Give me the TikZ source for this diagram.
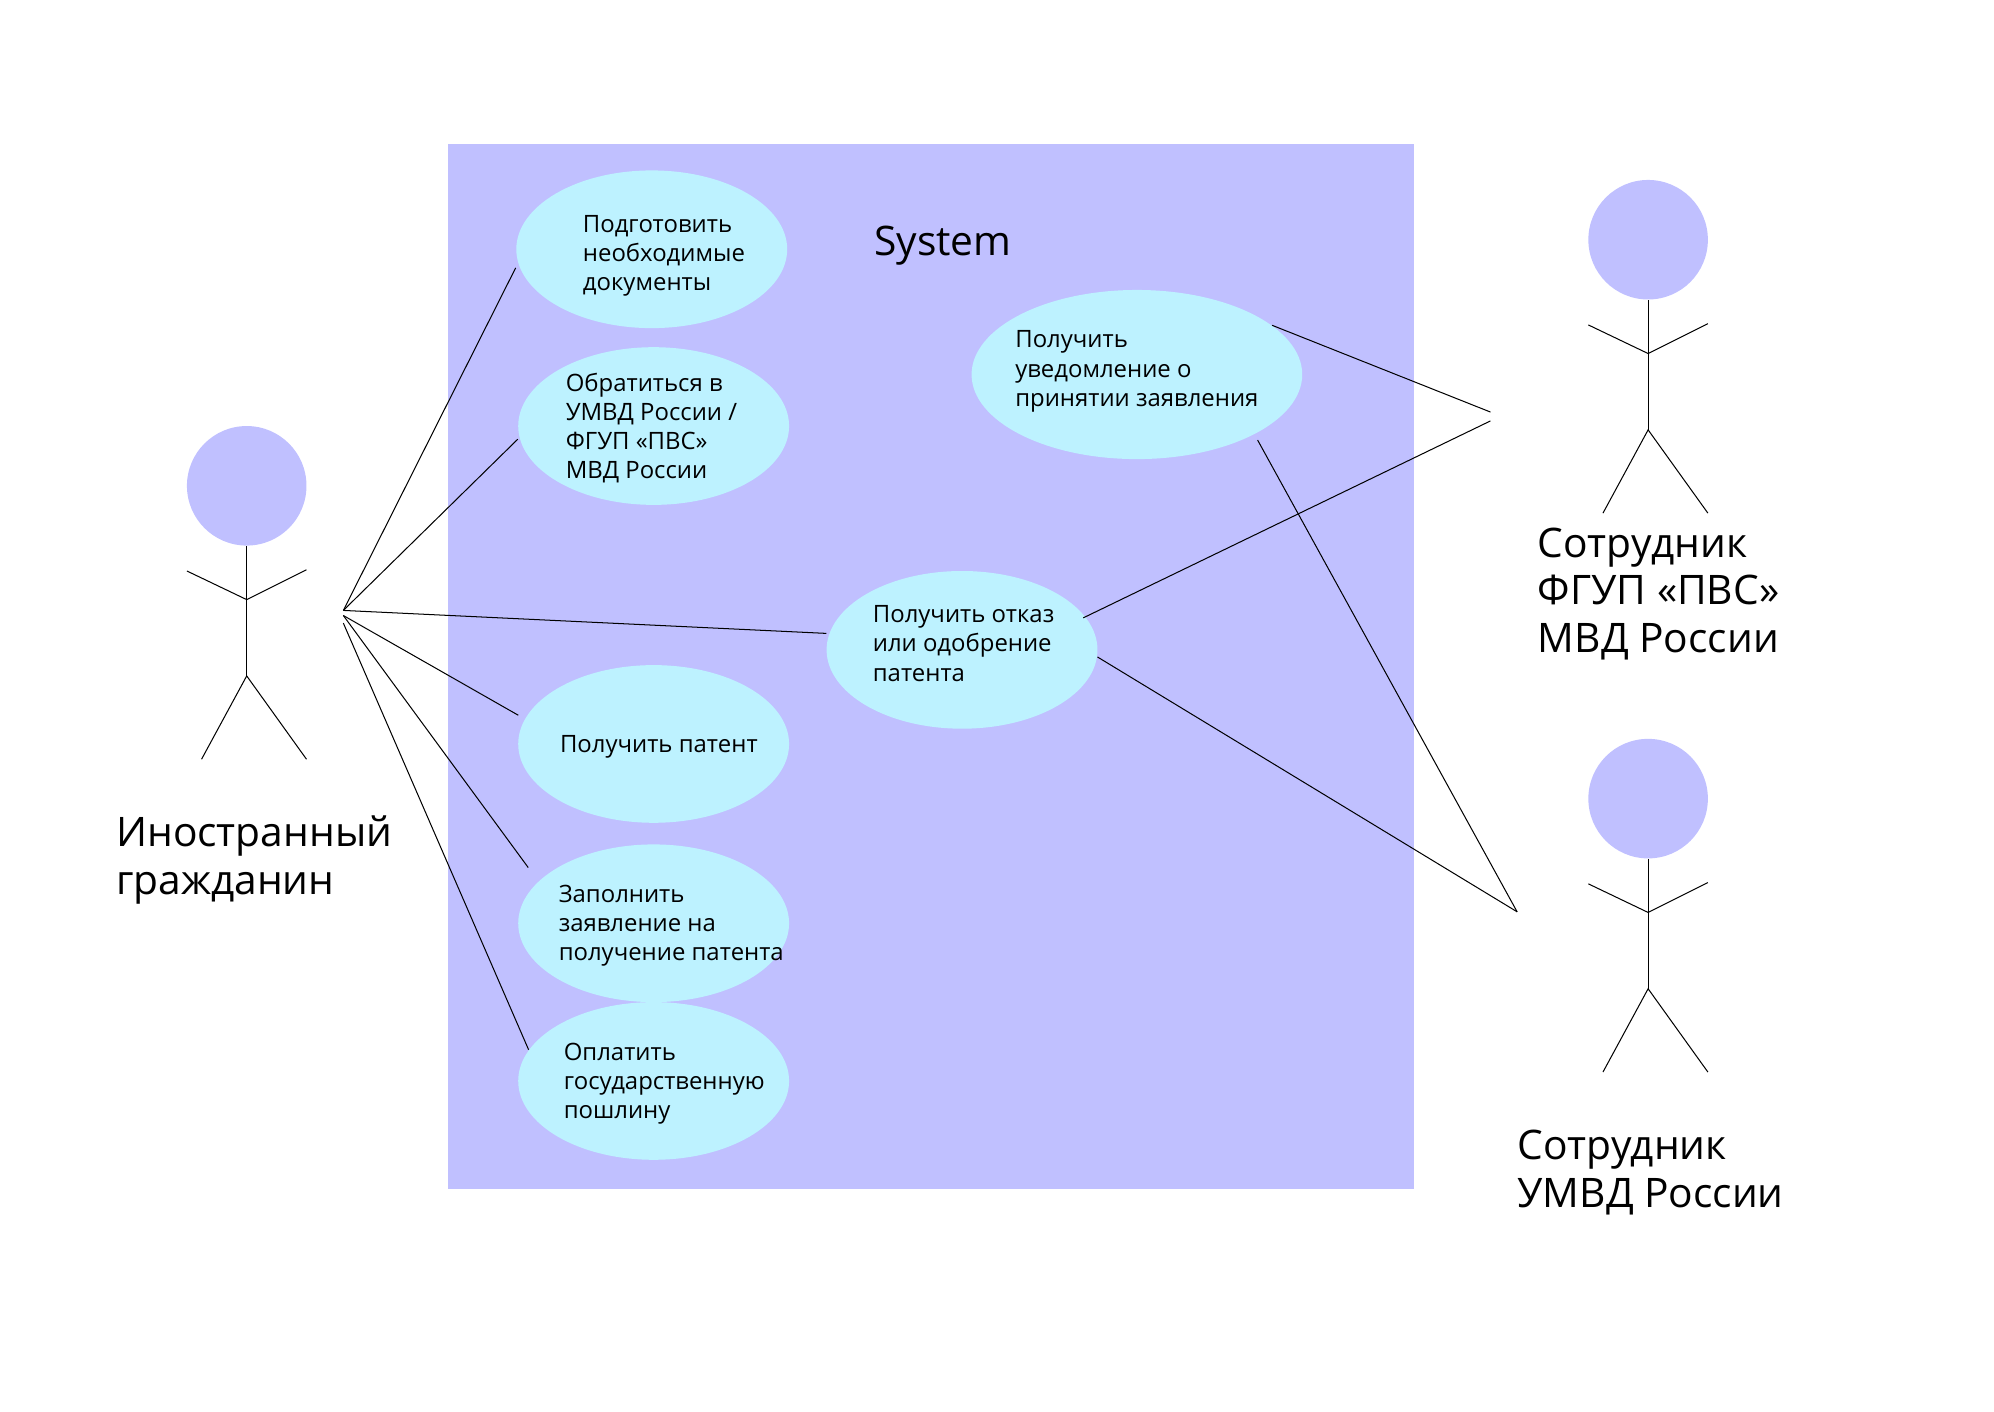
\documentclass[tikz,border=0pt]{standalone}
\usepackage{fontspec}
\setmainfont{Open Sans}
\usetikzlibrary{positioning}
\usetikzlibrary{shapes.geometric}

\definecolor{boxblue}{HTML}{C0C0FF}
\definecolor{usecyan}{HTML}{BDF2FF}

\tikzset{
	usecase/.style={ellipse, fill=usecyan, inner sep=0pt, minimum width=106.5pt, minimum height=62pt},
	usetext/.style={anchor=west, align=left, inner sep=0pt, font=\fontsize{9.4}{11.5}\selectfont},
	bigtext/.style={anchor=west, align=left, inner sep=0pt, font=\fontsize{16}{18.75}\selectfont},
	head/.style={circle, fill=boxblue, inner sep=0pt, minimum size=47pt},
	link/.style={line width=0.4pt}
}

\begin{document}
\begin{tikzpicture}[x=0.5pt, y=-0.5pt]
		\useasboundingbox (0, 0) rectangle (1568, 1110.3);

		\begin{scope}
			\node (system) at (732, 524) [fill=boxblue, inner sep=0pt, minimum width=380pt, minimum height=411pt] {};
			\node (system_title) at (687, 193.5) [bigtext] {System};
		\end{scope}

		% Use cases
		\begin{scope}
			\node (docs) at (512.5, 196) [usecase] {};
			\node (docs_text) at (458, 201) [usetext] {Подготовить\\необходимые\\документы};

			\node (apply) at (514, 335) [usecase] {};
			\node (apply_text) at (444.5, 336.5) [usetext] {Обратиться в\\УМВД России /\\ФГУП «ПВС»\\МВД России};

			\node (patent) at (514, 585) [usecase] {};
			\node (patent_text) at (440, 587) [usetext] {Получить патент};

			\node (form) at (514, 726) [usecase] {};
			\node (form_text) at (439, 728) [usetext] {Заполнить\\заявление на\\получение патента};

			\node (fee) at (514, 850) [usecase] {};
			\node (fee_text) at (443, 852) [usetext] {Оплатить\\государственную\\пошлину};

			\node (answer) at (756.5, 511) [usecase] {};
			\node (answer_text) at (686, 506) [usetext] {Получить отказ\\или одобрение\\патента};

			\node (notice) at (894, 294.5) [usecase, minimum width=130pt, minimum height=66.5pt] {};
			\node (notice_text) at (798, 292) [usetext] {Получить\\уведомление о\\принятии заявления};
		\end{scope}

		% Foreigner
		\begin{scope}
			\node (head_f) at (194, 382) [head] {};
			\coordinate (chest_f) at (194, 471.5);
			\coordinate (hip_f) at (194, 531.5);
			\draw [link] (head_f.south) -- (hip_f);
			\draw [link] (147, 449) -- (chest_f) -- (241, 448);
			\draw [link] (158.5, 597) -- (hip_f) -- (241, 597);
			\node (label_f) at (91, 676.5) [bigtext] {Иностранный\\гражданин};
		\end{scope}

		% FGUP officer
		\begin{scope}[shift={(1102, -193.5)}]
			\node (head_p) at (194, 382) [head] {};
			\coordinate (chest_p) at (194, 471.5);
			\coordinate (hip_p) at (194, 531.5);
			\draw [link] (head_p.south) -- (hip_p);
			\draw [link] (147, 449) -- (chest_p) -- (241, 448);
			\draw [link] (158.5, 597) -- (hip_p) -- (241, 597);
		\end{scope}
		\node (label_p) at (1209, 467) [bigtext] {Сотрудник\\ФГУП «ПВС»\\МВД России};

		% UMVD officer
		\begin{scope}[shift={(1102, 246)}]
			\node (head_u) at (194, 382) [head] {};
			\coordinate (chest_u) at (194, 471.5);
			\coordinate (hip_u) at (194, 531.5);
			\draw [link] (head_u.south) -- (hip_u);
			\draw [link] (147, 449) -- (chest_u) -- (241, 448);
			\draw [link] (158.5, 597) -- (hip_u) -- (241, 597);
		\end{scope}
		\node (label_u) at (1193, 922) [bigtext] {Сотрудник\\УМВД России};

		% Connectors
		\begin{scope}
			\coordinate (hub_a) at (270, 480);
			\coordinate (hub_b) at (270, 484);
			\coordinate (hub_c) at (270, 490);
			\coordinate (hub_d) at (1172, 324);
			\coordinate (hub_e) at (1172, 331);
			\coordinate (hub_g) at (1193, 717);

			\draw [link, shorten >=2pt] (hub_a) -- (docs.186.8);
			\draw [link, shorten >=0.8pt] (hub_a) -- (apply.185.9);
			\draw [link, shorten >=1pt] (hub_a) -- (answer.173);
			\draw [link, shorten >=2.9pt] (hub_b) -- (patent.169.6);
			\draw [link, shorten >=6.7pt] (hub_b) -- (form.160.6);
			\draw [link] (hub_c) -- (fee.166);

			\draw [link] (notice.20.4) -- (hub_d);
			\draw [link, shorten <=-1pt] (answer.15.9) -- (hub_e);
			\draw [link] (answer.357.3) -- (hub_g);
			\draw [link, shorten <=2.5pt] (notice.333.8) -- (hub_g);
		\end{scope}
	\end{tikzpicture}
\end{document}
